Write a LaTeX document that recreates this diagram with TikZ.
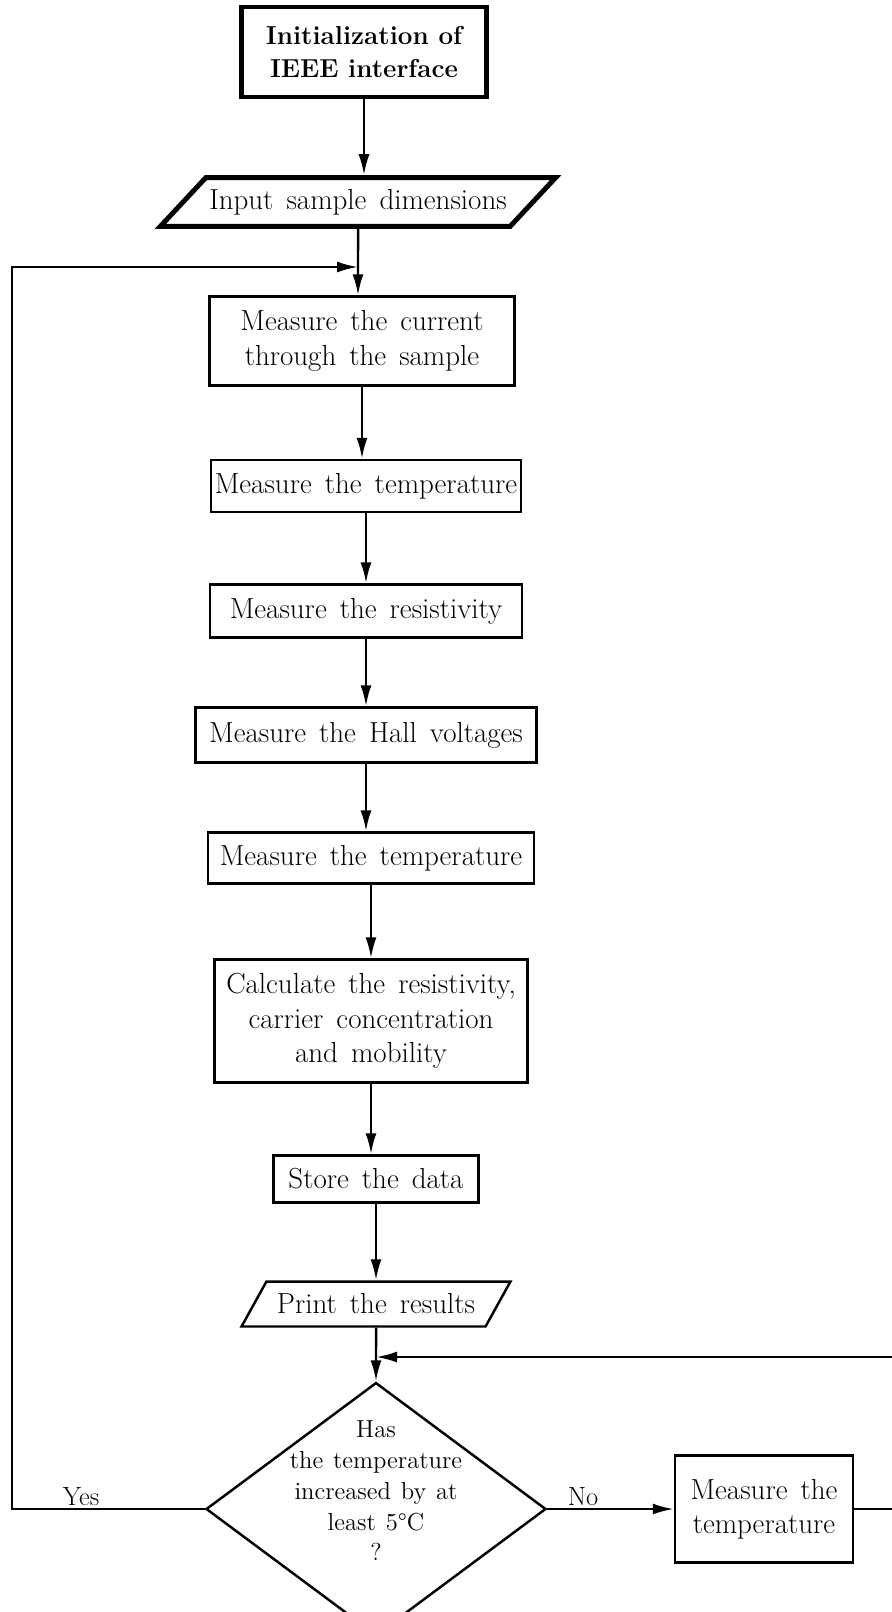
\documentclass[tikz,border=0pt]{standalone}
\usepackage{fontspec}
\usetikzlibrary{shapes.geometric,arrows.meta}
\newcommand\boxfont{\fontsize{16.5}{19.5}\selectfont\spaceskip=.45em plus .1em minus .1em\relax}
\newcommand\qfont{\fontsize{14}{17.5}\selectfont\spaceskip=.4em plus .1em minus .1em\relax}
\begin{document}
\begin{tikzpicture}[x=0.02cm,y=-0.02cm,
box/.style={draw,line width=1.4pt,align=center,inner sep=2pt,font=\boxfont},
io/.style={box,trapezium,trapezium stretches body},
dec/.style={draw,line width=1.4pt,diamond,aspect=1.345,inner sep=0pt},
qtext/.style={align=center,inner sep=0pt,font=\qfont},
arr/.style={line width=1.4pt,-{Latex[length=0.42cm,width=0.22cm]}},
lbl/.style={font=\fontsize{15}{17}\selectfont,inner sep=1pt,anchor=south}]
\useasboundingbox(0,0)rectangle(892,1612);
\node[box,line width=2.8pt,font=\fontsize{14.8}{19}\selectfont\bfseries,minimum width=4.9cm,minimum height=1.8cm](init)at(364,52){Initialization of\\IEEE interface};
\node[io,line width=2.8pt,trapezium left angle=47,trapezium right angle=133,inner ysep=6.5pt,minimum width=7.2cm](input)at(358,202){Input sample dimensions};
\node[box,minimum width=6.1cm,minimum height=1.78cm](current)at(362,341){Measure the current\\through the sample};
\node[box,minimum width=6.2cm,minimum height=1.04cm](temp1)at(366,486){Measure the temperature};
\node[box,minimum width=6.24cm,minimum height=1.06cm](resist)at(366,611){Measure the resistivity};
\node[box,minimum width=6.82cm,minimum height=1.1cm](hall)at(366,735){Measure the Hall voltages};
\node[box,minimum width=6.52cm,minimum height=1.02cm](temp2)at(371,858){Measure the temperature};
\node[box,minimum width=6.26cm,minimum height=2.46cm](calc)at(371,1021){Calculate the resistivity,\\carrier concentration\\and mobility};
\node[box,minimum width=4.1cm,minimum height=0.94cm](store)at(376,1179){Store the data};
\node[io,trapezium left angle=61,trapezium right angle=119,inner ysep=7pt,minimum width=5.38cm](print)at(376,1304){Print the results};
\node[dec,minimum width=6.8cm,minimum height=5.06cm](dec)at(376,1509){};
\node[qtext](q)at(376,1491){Has\\the temperature\\increased by at\\least 5\textdegree C\\?};
\node[box,minimum width=3.56cm,minimum height=2.14cm](tempR)at(764,1509){Measure the\\temperature};
\node[lbl](yes)at(81,1508){Yes};
\node[lbl](no)at(583,1508){No};
\coordinate(j1)at(358,267);
\coordinate(j2)at(376,1357);
\coordinate(lx)at(12,267);
\coordinate(rx)at(910,1357);
\foreach \a/\b in{init/input,input/current,current/temp1,temp1/resist,resist/hall,hall/temp2,temp2/calc,calc/store,store/print,print/dec}
\draw[arr](\a)--(\a|-\b.north);
\draw[arr](dec.west)-|(lx)--(j1);
\draw[arr](tempR.east)-|(rx)--(j2);
\draw[arr](dec.east)--(tempR.west);
\end{tikzpicture}
\end{document}
